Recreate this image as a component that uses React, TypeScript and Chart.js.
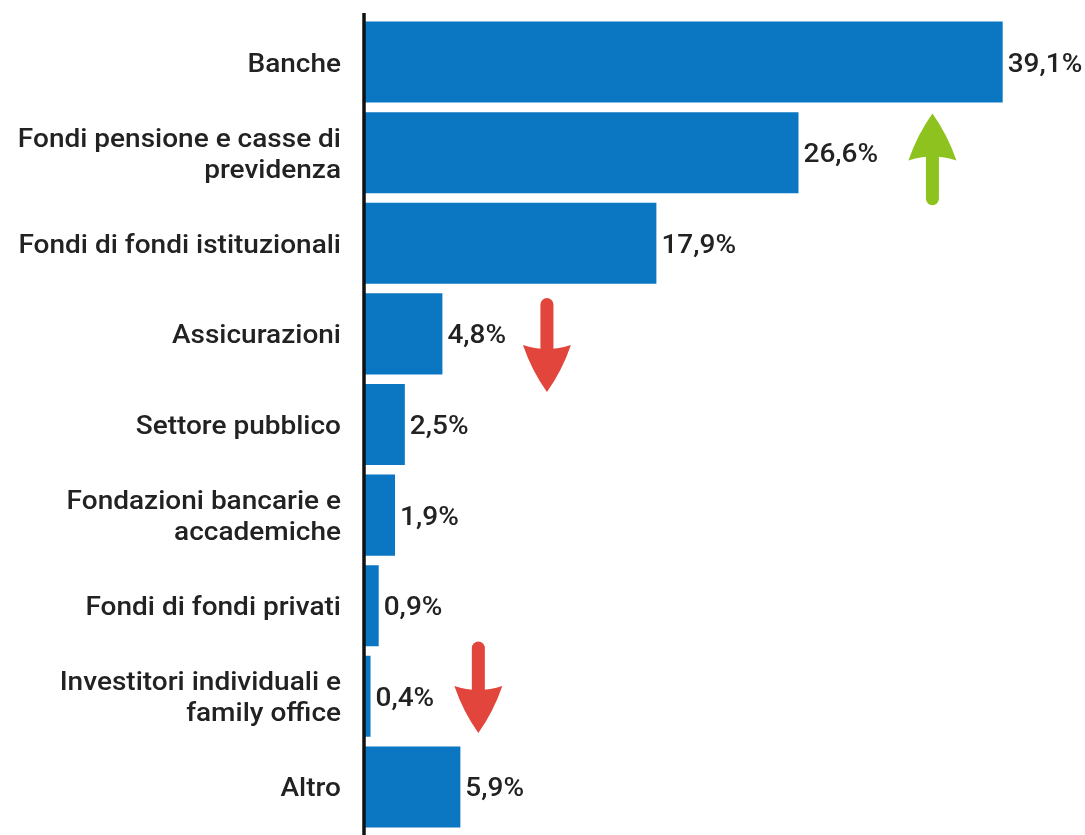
import React, { useEffect, useRef } from "react";
import { Chart, registerables } from "chart.js";

Chart.register(...registerables);

// ---- data ----
const categoryLines: string[][] = [
  ["Banche"],
  ["Fondi pensione e casse di", "previdenza"],
  ["Fondi di fondi istituzionali"],
  ["Assicurazioni"],
  ["Settore pubblico"],
  ["Fondazioni bancarie e", "accademiche"],
  ["Fondi di fondi privati"],
  ["Investitori individuali e", "family office"],
  ["Altro"],
];
const categories: string[] = categoryLines.map((l) => l.join(" "));
const values: number[] = [39.1, 26.6, 17.9, 4.8, 2.5, 1.9, 0.9, 0.4, 5.9];
const valueLabels: string[] = ["39,1%", "26,6%", "17,9%", "4,8%", "2,5%", "1,9%", "0,9%", "0,4%", "5,9%"];

// trend arrows: x value, category position of tail and tip
const arrowValues: number[] = [34.8, 11.2, 7.0];
const arrowTails: number[] = [1.575, 2.61, 6.4];
const arrowTips: number[] = [0.567, 3.641, 7.405];
const arrowColors: string[] = ["#8DC21F", "#E2453C", "#E2453C"];

const BAR_COLOR = "#0B77C2";
const TEXT_COLOR = "#222222";
const FONT = "500 25px Roboto";
const STRETCH = 1.12;

function drawStretched(ctx: CanvasRenderingContext2D, text: string, x: number, y: number, align: CanvasTextAlign) {
  ctx.save();
  ctx.translate(x, y);
  ctx.scale(STRETCH, 1);
  ctx.textAlign = align;
  ctx.textBaseline = "alphabetic";
  ctx.fillText(text, 0, 0);
  ctx.restore();
}

const overlayPlugin = {
  id: "overlay",
  afterDatasetsDraw(chart: any) {
    const ctx: CanvasRenderingContext2D = chart.ctx;
    const xs = chart.scales.x;
    const ys = chart.scales.y;
    const area = chart.chartArea;
    ctx.save();

    // axis line
    ctx.strokeStyle = "#111111";
    ctx.lineWidth = 3.5;
    ctx.beginPath();
    ctx.moveTo(area.left, 13);
    ctx.lineTo(area.left, chart.height);
    ctx.stroke();

    ctx.fillStyle = TEXT_COLOR;
    ctx.font = FONT;
    const lineGap = 31;
    // category labels
    categoryLines.forEach((lines, i) => {
      const cy = ys.getPixelForValue(i);
      const n = lines.length;
      lines.forEach((line, j) => {
        const off = (j - (n - 1) / 2) * lineGap;
        drawStretched(ctx, line, area.left - 23, cy + off + 9.5, "right");
      });
    });

    // value labels
    const meta = chart.getDatasetMeta(0);
    meta.data.forEach((bar: any, i: number) => {
      drawStretched(ctx, valueLabels[i], bar.x + 5, bar.y + 9.5, "left");
    });

    // arrows
    arrowValues.forEach((v, i) => {
      const cx = xs.getPixelForValue(v);
      const tail = ys.getPixelForValue(arrowTails[i]);
      const tip = ys.getPixelForValue(arrowTips[i]);
      const d = tip > tail ? 1 : -1;
      ctx.fillStyle = arrowColors[i];
      ctx.strokeStyle = arrowColors[i];
      // shaft
      ctx.lineWidth = 13;
      ctx.lineCap = "round";
      ctx.beginPath();
      ctx.moveTo(cx, tail + 6 * d);
      ctx.lineTo(cx, tip - 38 * d);
      ctx.stroke();
      // head
      const headLen = 47;
      const half = 24;
      const baseY = tip - headLen * d;
      ctx.beginPath();
      ctx.moveTo(cx, tip);
      ctx.quadraticCurveTo(cx - 15, tip - 21 * d, cx - half, baseY);
      ctx.quadraticCurveTo(cx - half * 0.5, baseY + 4 * d, cx, baseY + 4 * d);
      ctx.quadraticCurveTo(cx + half * 0.5, baseY + 4 * d, cx + half, baseY);
      ctx.quadraticCurveTo(cx + 15, tip - 21 * d, cx, tip);
      ctx.closePath();
      ctx.fill();
    });
    ctx.restore();
  },
};

export default function App() {
  const canvasRef = useRef<HTMLCanvasElement | null>(null);

  useEffect(() => {
    if (!canvasRef.current) return;
    const chart = new Chart(canvasRef.current, {
      type: "bar",
      data: {
        labels: categories,
        datasets: [
          {
            data: values,
            backgroundColor: BAR_COLOR,
            borderWidth: 0,
            barPercentage: 0.894,
            categoryPercentage: 1,
          },
        ],
      },
      options: {
        indexAxis: "y",
        animation: false,
        responsive: false,
        maintainAspectRatio: false,
        layout: { padding: { left: 364, right: 0, top: 16.7, bottom: 2.7 } },
        plugins: { legend: { display: false }, tooltip: { enabled: false } },
        scales: {
          x: { display: false, min: 0, max: 44.14 },
          y: { display: false },
        },
      },
      plugins: [overlayPlugin],
    });
    return () => chart.destroy();
  }, []);

  return (
    <div style={{ position: "fixed", left: 0, top: 0, width: 1085, height: 835, background: "#ffffff" }}>
      <canvas ref={canvasRef} width={1085} height={835} style={{ display: "block" }} />
    </div>
  );
}
